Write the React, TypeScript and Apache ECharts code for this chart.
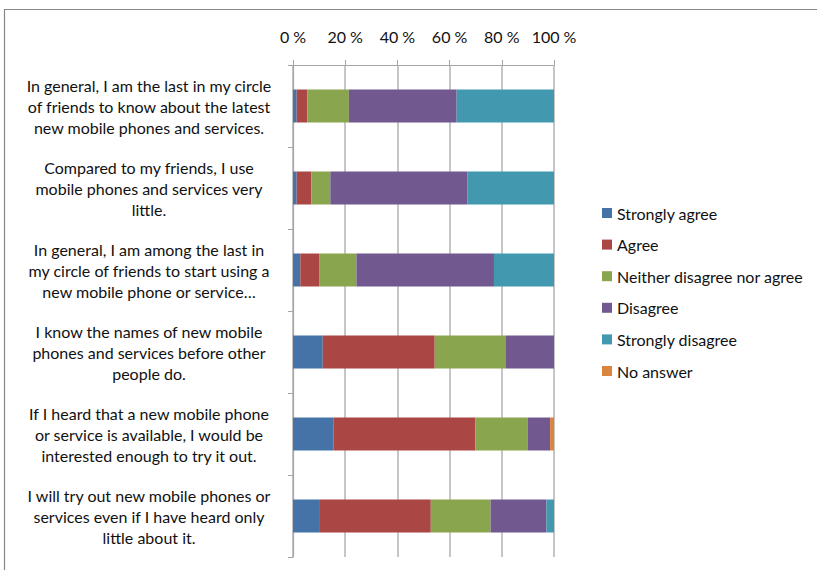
import React, { useEffect, useRef } from "react";
import * as echarts from "echarts";

const categories = [
  "In general, I am the last in my circle\nof friends to know about the latest\nnew mobile phones and services.",
  "Compared to my friends, I use\nmobile phones and services very\nlittle.",
  "In general, I am among the last in\nmy circle of friends to start using a\nnew mobile phone or service…",
  "I know the names of new mobile\nphones and services before other\npeople do.",
  "If I heard that a new mobile phone\nor service is available, I would be\ninterested enough to try it out.",
  "I will try out new mobile phones or\nservices even if I have heard only\nlittle about it.",
];

const seriesNames = [
  "Strongly agree",
  "Agree",
  "Neither disagree nor agree",
  "Disagree",
  "Strongly disagree",
  "No answer",
];

const stronglyAgree = [1.4, 1.4, 2.8, 11.4, 15.6, 10.0];
const agree = [4.1, 5.6, 7.2, 42.9, 54.3, 42.8];
const neither = [15.9, 7.3, 14.3, 27.3, 20.1, 22.9];
const disagree = [41.3, 52.6, 52.7, 18.4, 8.5, 21.4];
const stronglyDisagree = [37.3, 33.1, 23.0, 0, 0, 2.9];
const noAnswer = [0, 0, 0, 0, 1.5, 0];

const xTicks = [0, 20, 40, 60, 80, 100];

const colors = ["#4572A7", "#AA4643", "#89A54E", "#71588F", "#4198AF", "#DB843D"];

export default function App() {
  const ref = useRef<HTMLDivElement>(null);
  useEffect(() => {
    document.body.style.margin = "0";
    const chart = echarts.init(ref.current!, null, { renderer: "svg" });
    const values = [stronglyAgree, agree, neither, disagree, stronglyDisagree, noAnswer];
    const font = "Lato, 'Open Sans', sans-serif";
    chart.setOption({
      animation: false,
      color: colors,
      textStyle: { fontFamily: font },
      graphic: [
        {
          type: "rect",
          shape: { x: 4.5, y: 9.5, width: 830, height: 600 },
          style: { fill: "none", stroke: "#868686", lineWidth: 1.2 },
          silent: true,
        },
      ],
      grid: { left: 293, right: 263, top: 65, bottom: 13 },
      legend: {
        orient: "vertical",
        left: 597,
        top: 200,
        itemWidth: 10,
        itemHeight: 10,
        itemGap: 15.6,
        icon: "rect",
        textStyle: { fontSize: 16, color: "#111", fontFamily: font },
        data: seriesNames,
      },
      xAxis: {
        type: "value",
        position: "top",
        min: xTicks[0],
        max: xTicks[xTicks.length - 1],
        interval: 20,
        axisLine: { show: true, lineStyle: { color: "#a6a6a6", width: 1.2 } },
        axisTick: { show: true, length: 5, lineStyle: { color: "#a6a6a6" } },
        splitLine: { show: true, lineStyle: { color: "#b3b3b3", width: 1.5 } },
        axisLabel: {
          formatter: "{value} %",
          fontSize: 16,
          color: "#111",
          margin: 21,
          fontFamily: font,
        },
      },
      yAxis: {
        type: "category",
        inverse: true,
        data: categories,
        axisLine: { show: true, lineStyle: { color: "#a6a6a6", width: 1.2 } },
        axisTick: { show: true, length: 5, lineStyle: { color: "#a6a6a6" } },
        axisLabel: {
          align: "center",
          margin: 144,
          fontSize: 16,
          lineHeight: 21,
          color: "#111",
          fontFamily: font,
        },
      },
      series: seriesNames.map((name, i) => ({
        name,
        type: "bar",
        stack: "total",
        barWidth: 33,
        data: values[i],
        itemStyle: { color: colors[i] },
      })),
    });
    return () => chart.dispose();
  }, []);
  return <div ref={ref} style={{ width: 817, height: 570 }} />;
}
